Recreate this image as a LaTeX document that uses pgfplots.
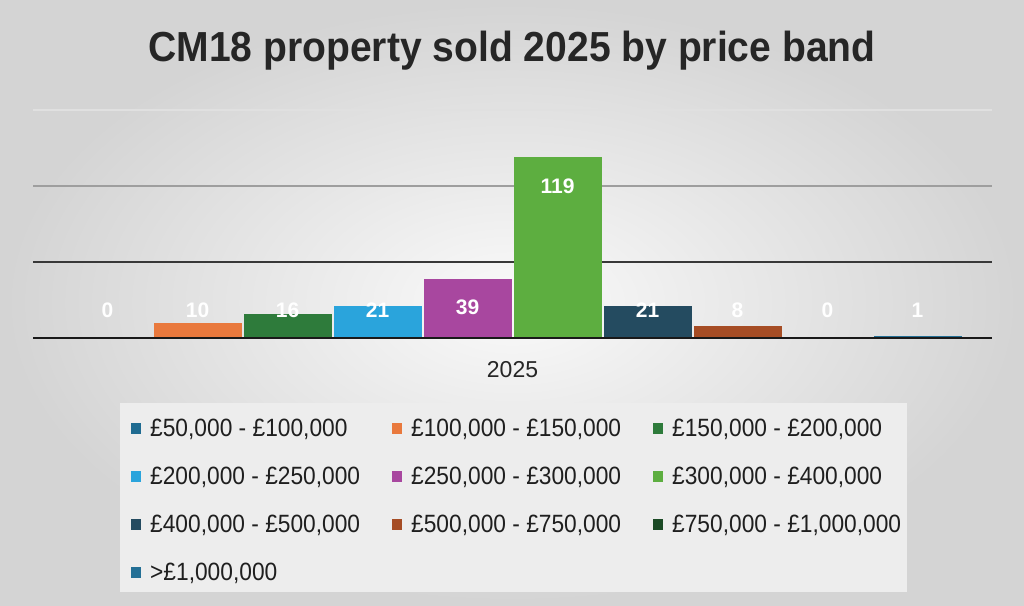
\documentclass[border=0pt]{standalone}
\usepackage{pgfplots}
\pgfplotsset{compat=1.18}
\usepackage{fontspec}
\setmainfont{Liberation Sans}
\newfontfamily\narrowfont[FakeStretch=0.91]{Liberation Sans}
\newfontfamily\titlefont[FakeStretch=0.93]{Liberation Sans}
\definecolor{cA}{HTML}{1F6B91}
\definecolor{cB}{HTML}{E9793D}
\definecolor{cC}{HTML}{2E7B3B}
\definecolor{cD}{HTML}{2AA4DC}
\definecolor{cE}{HTML}{A8479F}
\definecolor{cF}{HTML}{5DAE40}
\definecolor{cG}{HTML}{244B60}
\definecolor{cH}{HTML}{A64D25}
\definecolor{cI}{HTML}{1B4A25}
\definecolor{cJ}{HTML}{236F95}
\newcommand\leg[1]{\makebox[233pt][l]{#1}}
\newcommand\titletext{\titlefont\bfseries\fontsize{42}{48}\selectfont CM18 property sold 2025 by price band}
\begin{document}
\begin{tikzpicture}[x=1pt,y=1pt]
\shade[inner color=white!98!black, outer color=white!83!black] (0,0) rectangle (1024,605);
\node[anchor=base, inner sep=0pt, text=black!85] at (512,543) {\titletext};
\begin{axis}[
  at={(33pt,267pt)}, anchor=south west,
  scale only axis, width=959pt, height=228pt,
  xmin=-1, xmax=1, ymin=0, ymax=150,
  ybar=2pt, bar width=88pt,
  /pgf/number format/assume math mode=true,
  xtick={0}, xticklabels={2025},
  xticklabel style={font=\fontsize{23}{26}\selectfont, text=black!85, yshift=-16pt},
  ymajorgrids, yminorgrids,
  ytick={50}, minor ytick={150}, extra y ticks={100},
  yticklabels={}, extra y tick labels={},
  major grid style={black!78, line width=1.4pt},
  minor grid style={black!12, line width=1.2pt},
  extra y tick style={major grid style={black!38, line width=1.4pt}},
  tick style={draw=none},
  axis line style={draw=none},
  nodes near coords={\smash{\pgfmathprintnumber[assume math mode=true]{\pgfplotspointmeta}}},
  every node near coord/.append style={inner sep=0pt, text=white, font=\bfseries\fontsize{21}{21}\selectfont},
  mylegend/.style={legend image code/.code={\path[fill=none,draw=none] (-9pt,-8.5pt) rectangle (10pt,2.5pt); \fill[##1] (0pt,-8.5pt) rectangle (10pt,2.5pt);}},
  legend columns=3,
  legend cell align=left,
  legend style={at={(axis description cs:0.0907,-0.2851)}, anchor=north west,
    draw=none, fill=black!7, inner xsep=2pt, inner ysep=0pt, row sep=3pt,
    nodes={inner sep=0pt, text height=33pt, text depth=12pt, font=\narrowfont\fontsize{25}{30}\selectfont, text=black!88},
    /tikz/every odd column/.append style={column sep=9pt},
    /tikz/every even column/.append style={column sep=0pt}},
]
\addplot[fill=cA, draw=none, mylegend, every node near coord/.append style={yshift=19.5pt}] coordinates {(0,0)};
\addlegendentry{\leg{£50,000 - £100,000}}
\addplot[fill=cB, draw=none, mylegend, every node near coord/.append style={yshift=4.3pt}] coordinates {(0,10)};
\addlegendentry{\leg{£100,000 - £150,000}}
\addplot[fill=cC, draw=none, mylegend, every node near coord/.append style={yshift=-4.8pt}] coordinates {(0,16)};
\addlegendentry{\leg{£150,000 - £200,000}}
\addplot[fill=cD, draw=none, mylegend, every node near coord/.append style={yshift=-12.4pt}] coordinates {(0,21)};
\addlegendentry{\leg{£200,000 - £250,000}}
\addplot[fill=cE, draw=none, mylegend, every node near coord/.append style={yshift=-36.8pt}] coordinates {(0,39)};
\addlegendentry{\leg{£250,000 - £300,000}}
\addplot[fill=cF, draw=none, mylegend, every node near coord/.append style={yshift=-37.5pt}] coordinates {(0,119)};
\addlegendentry{\leg{£300,000 - £400,000}}
\addplot[fill=cG, draw=none, mylegend, every node near coord/.append style={yshift=-12.4pt}] coordinates {(0,21)};
\addlegendentry{\leg{£400,000 - £500,000}}
\addplot[fill=cH, draw=none, mylegend, every node near coord/.append style={yshift=7.3pt}] coordinates {(0,8)};
\addlegendentry{\leg{£500,000 - £750,000}}
\addplot[fill=cI, draw=none, mylegend, every node near coord/.append style={yshift=19.5pt}] coordinates {(0,0)};
\addlegendentry{\leg{£750,000 - £1,000,000}}
\addplot[fill=cJ, draw=none, mylegend, every node near coord/.append style={yshift=18pt}] coordinates {(0,1)};
\addlegendentry{\leg{>£1,000,000}}
\draw[line width=3pt, black!90] (rel axis cs:0,0) -- (rel axis cs:1,0);
\end{axis}
\end{tikzpicture}
\end{document}
